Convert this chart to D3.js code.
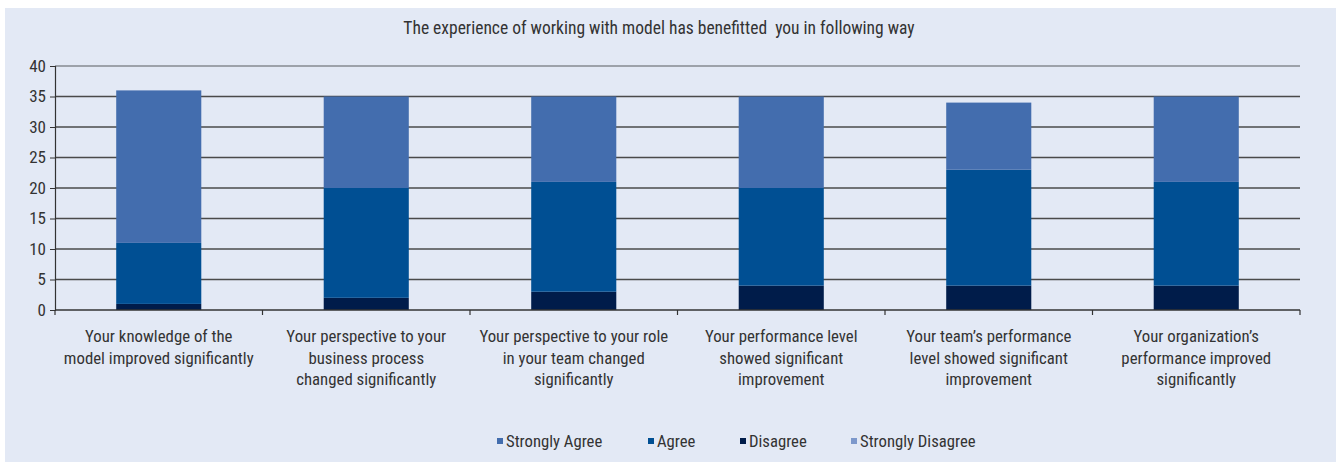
<!DOCTYPE html>
<html><head><meta charset="utf-8">
<script src="https://cdn.jsdelivr.net/npm/d3@7"></script>
<style>
html,body{margin:0;padding:0;background:#fff;}
svg{display:block;}
text{font-family:"Liberation Sans Narrow","Roboto Condensed","Arial Narrow",sans-serif;fill:#333;white-space:pre;}
</style></head><body>
<svg id="chart" width="1336" height="462"></svg>
<script>
const title = "The experience of working with model has benefitted  you in following way";
const categories = [
  ["Your knowledge of the","model improved significantly"],
  ["Your perspective to your","business process","changed significantly"],
  ["Your perspective to your role","in your team changed","significantly"],
  ["Your performance level","showed significant","improvement"],
  ["Your team\u2019s performance","level showed significant","improvement"],
  ["Your organization\u2019s","performance improved","significantly"]
];
const seriesNames = ["Strongly Agree","Agree","Disagree","Strongly Disagree"];
const stronglyDisagree = [0,0,0,0,0,0];
const disagree = [1,2,3,4,4,4];
const agree = [10,18,18,16,19,17];
const stronglyAgree = [25,15,14,15,11,14];
const yTicks = [0,5,10,15,20,25,30,35,40];
const colors = {"Strongly Agree":"#436dae","Agree":"#004f93","Disagree":"#001c4a","Strongly Disagree":"#7d98cb"};

(function(){
const svg = d3.select("#chart");
svg.append("rect").attr("x",5).attr("y",8).attr("width",1331).attr("height",454).attr("fill","#e3e9f5");

const pLeft=55, pRight=1300, pTop=66, pBottom=310;
const x = d3.scaleBand().domain(d3.range(categories.length)).range([pLeft,pRight]).paddingInner(0).paddingOuter(0);
const y = d3.scaleLinear().domain([0,40]).range([pBottom,pTop]);

// gridlines
svg.append("g").selectAll("line").data(yTicks.filter(d=>d>0)).join("line")
  .attr("x1",pLeft).attr("x2",pRight).attr("y1",d=>y(d)).attr("y2",d=>y(d))
  .attr("stroke",d=>d===40?"#868a91":"#4a4a4a").attr("stroke-width",1.5);

// stacked data
const rows = categories.map((c,i)=>({i, "Strongly Disagree":stronglyDisagree[i], "Disagree":disagree[i], "Agree":agree[i], "Strongly Agree":stronglyAgree[i]}));
const stack = d3.stack().keys(["Strongly Disagree","Disagree","Agree","Strongly Agree"]);
const layers = stack(rows);
const bw = x.bandwidth()*0.41;
svg.append("g").selectAll("g").data(layers).join("g").attr("fill",d=>colors[d.key])
  .selectAll("rect").data(d=>d).join("rect")
  .attr("x",d=>x(d.data.i)+x.bandwidth()/2-bw/2).attr("width",bw)
  .attr("y",d=>y(d[1])).attr("height",d=>y(d[0])-y(d[1]));

// y axis
const ya = svg.append("g").attr("transform",`translate(${pLeft},0)`)
  .call(d3.axisLeft(y).tickValues(yTicks).tickSize(5).tickPadding(4));
ya.select(".domain").attr("stroke","#333").attr("stroke-width",1.2);
ya.selectAll(".tick line").attr("stroke","#333");
ya.selectAll(".tick text").attr("font-size",17).attr("fill","#333")
  .style("font-family",'"Liberation Sans Narrow","Roboto Condensed",sans-serif');

// x axis line and category ticks
const bounds = d3.range(categories.length+1).map(i=> i<categories.length ? x(i) : pRight);
svg.append("line").attr("x1",pLeft).attr("x2",pRight).attr("y1",pBottom).attr("y2",pBottom).attr("stroke","#333").attr("stroke-width",1.5);
svg.append("g").selectAll("line").data(bounds).join("line")
  .attr("x1",d=>d).attr("x2",d=>d).attr("y1",pBottom).attr("y2",pBottom+5).attr("stroke","#333").attr("stroke-width",1.2);

// category labels
categories.forEach((lines,i)=>{
  const cx = x(i)+x.bandwidth()/2;
  const t = svg.append("text").attr("x",cx).attr("y",342)
    .attr("text-anchor","middle").attr("font-size",16.8);
  lines.forEach((l,j)=> t.append("tspan").attr("x",cx).attr("dy",j===0?0:21.5).text(l));
});

// title
svg.append("text").attr("x",659).attr("y",34).attr("text-anchor","middle").attr("font-size",17.5).text(title);

// legend
const legendX = [497,648,740,851];
seriesNames.forEach((n,i)=>{
  svg.append("rect").attr("x",legendX[i]).attr("y",438).attr("width",6).attr("height",6).attr("fill",colors[n]);
  svg.append("text").attr("x",legendX[i]+9).attr("y",447).attr("font-size",16.7).text(n);
});
})();
</script>
</body></html>
